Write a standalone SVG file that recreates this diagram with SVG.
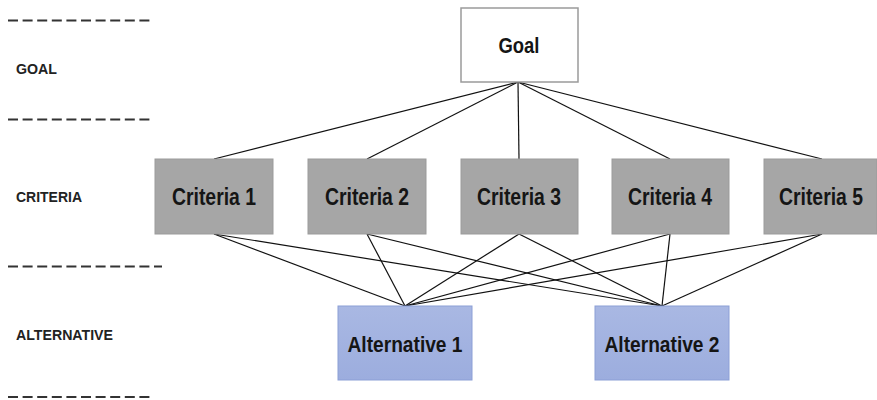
<svg xmlns="http://www.w3.org/2000/svg" width="877" height="400" viewBox="0 0 877 400">
<defs>
<linearGradient id="blue" x1="0" y1="0" x2="0" y2="1">
<stop offset="0" stop-color="#a9b8e3"/>
<stop offset="1" stop-color="#9cadde"/>
</linearGradient>
</defs>
<style>
.dash{stroke:#333;stroke-width:1.8;stroke-dasharray:10 4.6;fill:none}
.side{font-family:"Liberation Sans",Arial,sans-serif;font-weight:bold;font-size:14.5px;fill:#222}
.goal{fill:#fff;stroke:#9a9a9a;stroke-width:1.5}
.crit{fill:#a6a6a6;stroke:#9b9b9b;stroke-width:1}
.alt{fill:url(#blue);stroke:#8c9fd6;stroke-width:1}
.lbl{font-family:"Liberation Sans",Arial,sans-serif;font-weight:bold;font-size:22px;fill:#151515;text-anchor:middle}
.big{font-size:23px}
.con line{stroke:#111;stroke-width:1.2}
</style>
<rect width="877" height="400" fill="#fff"/>
<g id="levels">
<line class="dash" x1="8" y1="20.5" x2="153" y2="20.5"/>
<line class="dash" x1="8" y1="119.5" x2="153" y2="119.5"/>
<line class="dash" x1="8" y1="266.5" x2="162" y2="266.5"/>
<line class="dash" x1="8" y1="397" x2="153" y2="397"/>
<text class="side" x="16" y="74" textLength="41" lengthAdjust="spacingAndGlyphs">GOAL</text>
<text class="side" x="16" y="202" textLength="66" lengthAdjust="spacingAndGlyphs">CRITERIA</text>
<text class="side" x="16" y="340" textLength="97" lengthAdjust="spacingAndGlyphs">ALTERNATIVE</text>
</g>
<g id="connectors" class="con">
<line x1="518" y1="82" x2="214" y2="159"/>
<line x1="518" y1="82" x2="367" y2="159"/>
<line x1="518" y1="82" x2="519" y2="159"/>
<line x1="518" y1="82" x2="670" y2="159"/>
<line x1="518" y1="82" x2="822" y2="159"/>
<line x1="214" y1="234" x2="405" y2="306"/>
<line x1="214" y1="234" x2="662" y2="306"/>
<line x1="367" y1="234" x2="405" y2="306"/>
<line x1="367" y1="234" x2="662" y2="306"/>
<line x1="519" y1="234" x2="405" y2="306"/>
<line x1="519" y1="234" x2="662" y2="306"/>
<line x1="670" y1="234" x2="405" y2="306"/>
<line x1="670" y1="234" x2="662" y2="306"/>
<line x1="822" y1="234" x2="405" y2="306"/>
<line x1="822" y1="234" x2="662" y2="306"/>
</g>
<g id="goal">
<rect class="goal" x="461" y="8" width="117" height="74"/>
<text class="lbl" x="519" y="53" textLength="41" lengthAdjust="spacingAndGlyphs">Goal</text>
</g>
<g id="criteria1">
<rect class="crit" x="155" y="159" width="118" height="75"/>
<text class="lbl big" x="214" y="205" textLength="84" lengthAdjust="spacingAndGlyphs">Criteria 1</text>
</g>
<g id="criteria2">
<rect class="crit" x="308" y="159" width="118" height="75"/>
<text class="lbl big" x="367" y="205" textLength="84" lengthAdjust="spacingAndGlyphs">Criteria 2</text>
</g>
<g id="criteria3">
<rect class="crit" x="461" y="159" width="117" height="75"/>
<text class="lbl big" x="519" y="205" textLength="84" lengthAdjust="spacingAndGlyphs">Criteria 3</text>
</g>
<g id="criteria4">
<rect class="crit" x="612" y="159" width="117" height="75"/>
<text class="lbl big" x="670" y="205" textLength="84" lengthAdjust="spacingAndGlyphs">Criteria 4</text>
</g>
<g id="criteria5">
<rect class="crit" x="764" y="159" width="113" height="75"/>
<text class="lbl big" x="821" y="205" textLength="84" lengthAdjust="spacingAndGlyphs">Criteria 5</text>
</g>
<g id="alternative1">
<rect class="alt" x="338" y="306" width="134" height="74"/>
<text class="lbl" x="405" y="352" textLength="115" lengthAdjust="spacingAndGlyphs">Alternative 1</text>
</g>
<g id="alternative2">
<rect class="alt" x="595" y="306" width="134" height="74"/>
<text class="lbl" x="662" y="352" textLength="115" lengthAdjust="spacingAndGlyphs">Alternative 2</text>
</g>
</svg>
